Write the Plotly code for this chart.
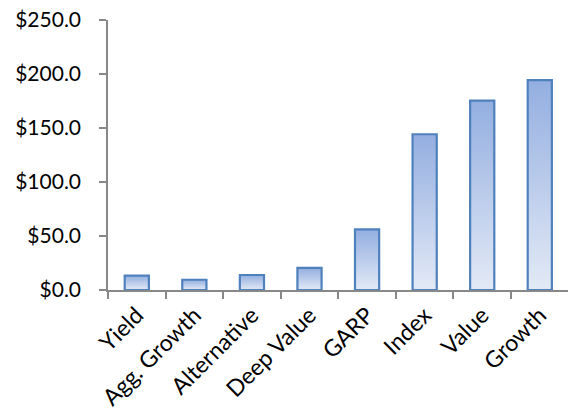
import plotly.graph_objects as go

# Assets by strategy ($)
categories = ["Yield", "Agg. Growth", "Alternative", "Deep Value", "GARP", "Index", "Value", "Growth"]
values = [13.4, 9.5, 13.9, 20.4, 56.1, 144.2, 175.3, 194.4]
y_ticks = [0, 50, 100, 150, 200, 250]

BAR_WIDTH = 0.42
BORDER = "#4f81bd"
FILL_TOP = "#93aee0"
FILL_BOTTOM = "#e3eaf6"

fig = go.Figure()

# Each bar is a closed rectangle so it can carry a vertical gradient fill
for i, v in enumerate(values):
    x0, x1 = i - BAR_WIDTH / 2, i + BAR_WIDTH / 2
    fig.add_trace(go.Scatter(
        x=[x0, x1, x1, x0, x0],
        y=[0, 0, v, v, 0],
        mode="lines",
        fill="toself",
        fillgradient=dict(type="vertical",
                          colorscale=[[0, FILL_BOTTOM], [1, FILL_TOP]]),
        line=dict(color=BORDER, width=2.2),
        hoverinfo="skip",
        showlegend=False,
    ))

font = dict(family="Lato, Open Sans, sans-serif", size=21, color="#000000")

fig.update_layout(
    width=568, height=414,
    margin=dict(l=108, r=0, t=20, b=124),
    paper_bgcolor="white", plot_bgcolor="white",
    font=font,
    showlegend=False,
)

fig.update_xaxes(
    range=[-0.5, 7.49],
    tickmode="array",
    tickvals=list(range(len(categories))),
    ticktext=categories,
    tickangle=-45,
    tickfont=dict(size=23),
    ticks="outside", ticklen=1, tickcolor="rgba(0,0,0,0)",
    minor=dict(tickmode="array",
               tickvals=[i - 0.5 for i in range(len(categories) + 1)],
               ticks="outside", ticklen=7, tickcolor="#888888", tickwidth=1.5),
    showgrid=False, zeroline=False,
    showline=True, linecolor="#888888", linewidth=1.5,
    fixedrange=True,
)

fig.update_yaxes(
    range=[0, 250],
    tickmode="array",
    tickvals=y_ticks,
    tickformat="$.1f",
    ticks="outside", ticklen=7, tickcolor="#888888", tickwidth=1.5,
    showgrid=False, zeroline=False,
    showline=True, linecolor="#888888", linewidth=1.5,
    ticklabelstandoff=14,
    fixedrange=True,
)

fig.write_html("out.html")
